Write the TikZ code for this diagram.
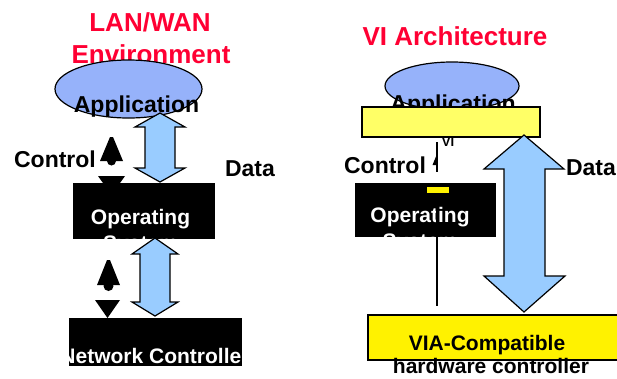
\documentclass[tikz,border=0pt]{standalone}
\usepackage{fontspec}
\setmainfont{Liberation Sans}
\usepackage{tikz}
\usetikzlibrary{shapes.geometric}

\definecolor{titlered}{RGB}{255,0,51}
\definecolor{appblue}{RGB}{150,178,250}
\definecolor{pipeblue}{RGB}{153,204,255}
\definecolor{paleyellow}{RGB}{255,255,102}

\newcommand{\fs}[1]{\fontsize{#1}{1.2\dimexpr#1pt\relax}\selectfont\bfseries}

\begin{document}
\begin{tikzpicture}[x=1pt,y=-1pt]
	\tikzstyle{every node}+=[inner sep=0pt, outer sep=0pt]
	\tikzstyle{lbl}=[anchor=base]
	\tikzstyle{blackbox}=[draw=black, fill=black, anchor=north west]
	\tikzstyle{pipe}=[draw=black, line width=1.2pt, fill=pipeblue, line join=miter]
	\useasboundingbox (0,0) rectangle (617,378);
	\clip (0,0) rectangle (617,378);

	% left column: LAN/WAN
	\node[lbl, text=titlered] (t1a) at (150,31) {\fs{26}LAN/WAN};
	\node[lbl, text=titlered] (t1b) at (151,63) {\fs{26}Environment};
	\node[draw, line width=1.2pt, fill=appblue, ellipse, minimum width=147, minimum height=58] (app1) at (128.5,89) {};
	\node[lbl] (app1t) at (136.5,112) {\fs{23}Application};
	\draw[pipe] (160,113) -- (185,127) -- (175,127) -- (175,168) -- (185,168) -- (160,182)
		-- (135,168) -- (145,168) -- (145,127) -- (135,127) -- cycle;
	\node[lbl] (ctl1) at (55,167) {\fs{23}Control};
	\node[lbl] (data1) at (250,176) {\fs{23}Data};
	% control arrow, upper
	\fill (110,137) -- (113,137) -- (123,161) -- (100,161) -- cycle;
	\fill (111.5,161) circle (4.5);
	\fill (98,176) -- (125,176) -- (111.5,195) -- cycle;
	\node[blackbox, minimum width=141, minimum height=55] (os1) at (73,183) {};
	\node[lbl, text=white] (os1t) at (140.5,224) {\fs{21}Operating};
	\node[lbl, text=white] (os1s) at (140.5,250) {\fs{21}System};
	\draw[pipe] (155,238) -- (178,254) -- (170,254) -- (170,302) -- (178,302) -- (155,316)
		-- (132,302) -- (140,302) -- (140,254) -- (132,254) -- cycle;
	% control arrow, lower
	\fill (107,260) -- (110,260) -- (120,285) -- (97,285) -- cycle;
	\fill (108.5,286) circle (5);
	\fill (95,300) -- (120,300) -- (107.5,318) -- cycle;
	\node[blackbox, minimum width=172, minimum height=47] (nic) at (69,318) {};
	\node[lbl, text=white] (nict) at (155,363) {\fs{21}Network Controller};

	% right column: VI
	\node[lbl, text=titlered] (t2) at (455,45) {\fs{26}VI Architecture};
	\node[draw, line width=1.2pt, fill=appblue, ellipse, minimum width=134, minimum height=48] (app2) at (452,86) {};
	\node[lbl] (app2t) at (453,111.5) {\fs{23}Application};
	\node[draw, line width=1.2pt, fill=paleyellow, anchor=north west, minimum width=178, minimum height=30] (vi) at (362,107) {};
	\node[lbl] (vit) at (448,146) {\fs{13}VI};
	\draw[line width=1.5pt] (437,142) -- (437,172);
	\fill (437,154) -- (432.5,165) -- (437,165) -- cycle;
	\node[lbl] (ctl2) at (385,173) {\fs{23}Control};
	\node[lbl, anchor=base west] (data2) at (566,175) {\fs{23}Data};
	\draw[pipe] (524,135) -- (564,169) -- (545,169) -- (545,276) -- (565,276) -- (524,312)
		-- (484,276) -- (504,276) -- (504,169) -- (484,169) -- cycle;
	\node[blackbox, minimum width=140, minimum height=53] (os2) at (355,183) {};
	\node[lbl, text=white] (os2t) at (420,222) {\fs{21}Operating};
	\node[lbl, text=white] (os2s) at (420,248) {\fs{21}System};
	\draw[line width=1.5pt] (437,185) -- (437,306);
	\fill[yellow] (427,187) rectangle (449,193);
	\node[draw, line width=1.2pt, fill=yellow, anchor=north west, minimum width=260, minimum height=45] (via) at (368,315) {};
	\node[lbl] (viat) at (487,350) {\fs{21}VIA-Compatible};
	\node[lbl] (hwt) at (491,373) {\fs{21}hardware controller};
\end{tikzpicture}
\end{document}
